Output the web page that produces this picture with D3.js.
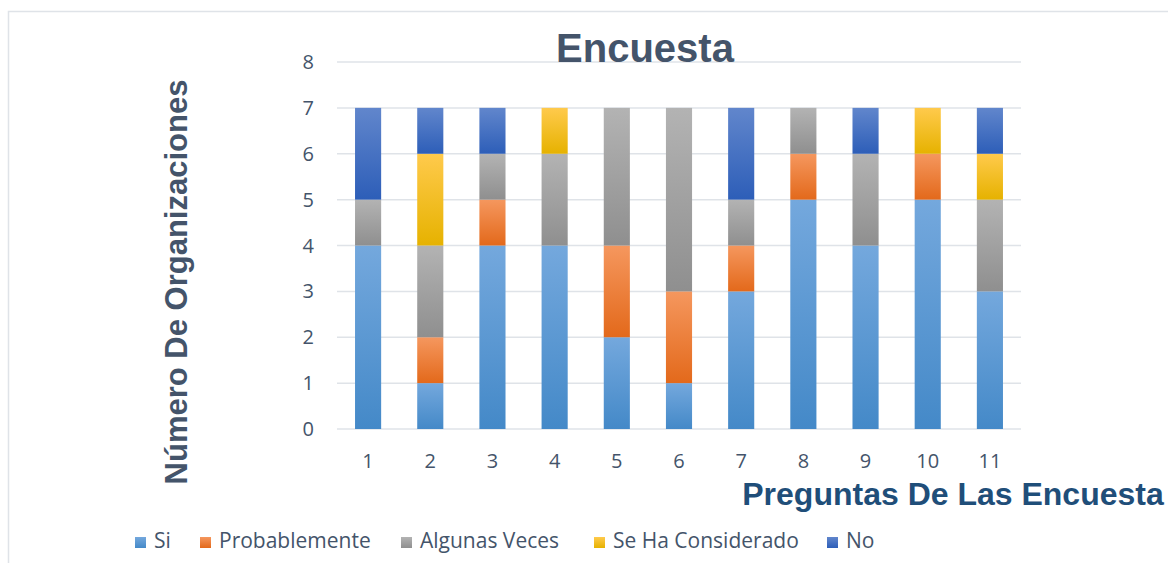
<!DOCTYPE html>
<html><head><meta charset="utf-8">
<script src="https://cdn.jsdelivr.net/npm/d3@7"></script>
<style>body{margin:0;background:#fff}svg{display:block}</style>
</head><body>
<script>
const categories = ["1","2","3","4","5","6","7","8","9","10","11"];
const seriesNames = ["Si","Probablemente","Algunas Veces","Se Ha Considerado","No"];
const si            = [4,1,4,4,2,1,3,5,4,5,3];
const probablemente = [0,1,1,0,2,2,1,1,0,1,0];
const algunasVeces  = [1,2,1,2,3,4,1,1,2,0,2];
const seHaConsiderado = [0,2,0,1,0,0,0,0,0,1,1];
const no            = [2,1,1,0,0,0,2,0,1,0,1];
const yTicks = [0,1,2,3,4,5,6,7,8];

const seriesValues = [si, probablemente, algunasVeces, seHaConsiderado, no];
const gradStops = [["#74a8dd","#4489c8"],["#f5975e","#e3691b"],["#b3b3b3","#8f8f8f"],["#ffca4c","#e6b200"],["#6186cc","#2d5eb8"]];

const W=1168,H=563;
const svg=d3.select("body").append("svg").attr("width",W).attr("height",H);
const defs=svg.append("defs");
gradStops.forEach((g,i)=>{
  const lg=defs.append("linearGradient").attr("id","g"+i).attr("x1",0).attr("y1",0).attr("x2",0).attr("y2",1);
  lg.append("stop").attr("offset","0%").attr("stop-color",g[0]);
  lg.append("stop").attr("offset","100%").attr("stop-color",g[1]);
});

// chart border
svg.append("path").attr("d","M8.5,563 V11.5 H1168").attr("fill","none").attr("stroke","#dfe3e8").attr("stroke-width",1.5);

const x=d3.scaleBand().domain(categories).range([337,1021]).paddingInner(0.58).paddingOuter(0.29);
const y=d3.scaleLinear().domain([0,8]).range([429,62]);

// gridlines
svg.append("g").selectAll("line").data(yTicks).join("line")
  .attr("x1",337).attr("x2",1021).attr("y1",d=>y(d)).attr("y2",d=>y(d))
  .attr("stroke","#dfe3e8").attr("stroke-width",1.5);

// stacks
const rows=categories.map((c,i)=>{const o={cat:c};seriesNames.forEach((s,j)=>o[s]=seriesValues[j][i]);return o;});
const stack=d3.stack().keys(seriesNames)(rows);
stack.forEach((layer,j)=>{
  svg.append("g").selectAll("rect").data(layer.filter(d=>d[1]-d[0]>0)).join("rect")
    .attr("x",d=>x(d.data.cat)).attr("width",x.bandwidth())
    .attr("y",d=>y(d[1])).attr("height",d=>y(d[0])-y(d[1]))
    .attr("fill","url(#g"+j+")");
});

const font="'Open Sans', 'DejaVu Sans', sans-serif";
const boldFont="'Liberation Sans', Arial, sans-serif";
// y tick labels
svg.append("g").selectAll("text").data(yTicks).join("text")
  .attr("x",314).attr("y",d=>y(d)).attr("dy","0.35em").attr("text-anchor","end")
  .attr("font-family",font).attr("font-size",20).attr("fill","#44546a").text(d=>d);
// x tick labels
svg.append("g").selectAll("text").data(categories).join("text")
  .attr("x",d=>x(d)+x.bandwidth()/2).attr("y",468).attr("text-anchor","middle")
  .attr("font-family",font).attr("font-size",20).attr("fill","#44546a").text(d=>d);

// title
svg.append("text").attr("x",645).attr("y",62).attr("text-anchor","middle")
  .attr("font-family",boldFont).attr("font-weight","bold").attr("font-size",40)
  .attr("fill","#44546a").text("Encuesta");
// y title
svg.append("text").attr("transform","translate(187,282) rotate(-90)").attr("text-anchor","middle")
  .attr("font-family",boldFont).attr("font-weight","bold").attr("font-size",31)
  .attr("fill","#44546a").text("Número De Organizaciones");
// x title
svg.append("text").attr("x",953).attr("y",505).attr("text-anchor","middle")
  .attr("font-family",boldFont).attr("font-weight","bold").attr("font-size",32)
  .attr("fill","#1f4e79").text("Preguntas De Las Encuesta");

// legend
const legX=[135,200,401,594,827];
const lg=svg.append("g").selectAll("g").data(seriesNames).join("g")
  .attr("transform",(d,i)=>`translate(${legX[i]},537)`);
lg.append("rect").attr("width",11).attr("height",11).attr("fill",(d,i)=>"url(#g"+i+")");
lg.append("text").attr("x",19).attr("y",11)
  .attr("font-family",font).attr("font-size",21).attr("fill","#44546a").text(d=>d);
</script>
</body></html>
